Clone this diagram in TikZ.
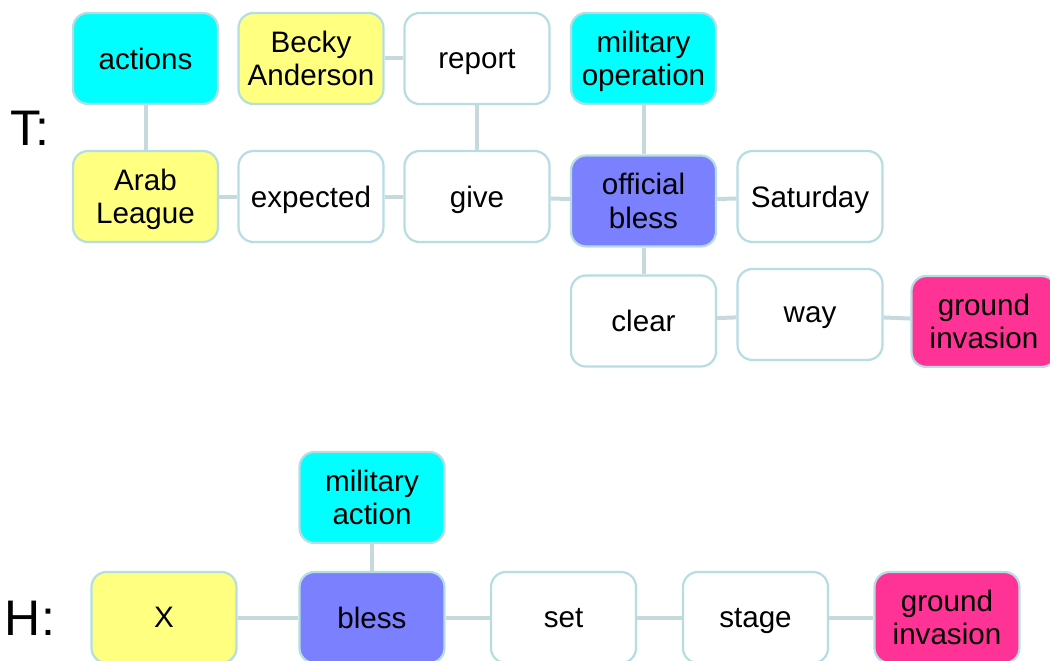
\documentclass[tikz,border=0pt]{standalone}
\usepackage{fontspec}
\setmainfont{Liberation Sans}
\definecolor{bord}{HTML}{B5DDE2}
\definecolor{conn}{HTML}{C6DADE}
\definecolor{cyanbox}{HTML}{00FFFF}
\definecolor{yelbox}{HTML}{FFFF80}
\definecolor{purbox}{HTML}{7B80FF}
\definecolor{pinkbox}{HTML}{FF3396}
\tikzset{
  box/.style={draw=bord, line width=2.2pt, rounded corners=15pt, fill=white,
    minimum width=145pt, minimum height=91pt, inner sep=0pt, align=center,
    text depth=0pt,
    font=\fontsize{29.6}{33.5}\selectfont},
  cy/.style={box, fill=cyanbox},
  ye/.style={box, fill=yelbox},
  pu/.style={box, fill=purbox},
  pk/.style={box, fill=pinkbox},
  link/.style={draw=conn, line width=4pt},
  lab/.style={font=\fontsize{50}{50}\selectfont, inner sep=0pt}
}
\begin{document}
\begin{tikzpicture}[x=1pt,y=-1pt]
\useasboundingbox (0,0) rectangle (1050,661);
% labels
\node[lab] (T) at (30,128) {T:};
\node[lab] (H) at (30,618) {H:};
% T graph
\node[cy] (actions) at (145.5,58.5) {actions};
\node[ye] (becky) at (311,58.5) {Becky\\Anderson};
\node[box] (report) at (477,58.5) {report};
\node[cy] (milop) at (643.5,58.5) {military\\operation};
\node[ye] (arab) at (145.5,196.5) {Arab\\League};
\node[box] (expected) at (311,196.5) {expected};
\node[box] (give) at (477,196.5) {give};
\node[pu] (offbless) at (643.5,201) {official\\bless};
\node[box] (saturday) at (810,196.5) {Saturday};
\node[box] (clear) at (643.5,321) {clear};
\node[box] (way) at (810,314.5) {way};
\node[pk] (ginvT) at (984,321.5) {ground\\invasion};
% H graph
\node[cy] (milact) at (372,497.5) {military\\action};
\node[ye] (x) at (164,617.5) {X};
\node[pu] (bless) at (372,617.5) {bless};
\node[box] (set) at (563.5,617.5) {set};
\node[box] (stage) at (755.5,617.5) {stage};
\node[pk] (ginvH) at (947,617.5) {ground\\invasion};
% connectors T
\draw[link] (actions) -- (arab);
\draw[link] (becky) -- (report);
\draw[link] (report) -- (give);
\draw[link] (milop) -- (offbless);
\draw[link] (arab) -- (expected);
\draw[link] (expected) -- (give);
\draw[link] (give) -- (offbless);
\draw[link] (offbless) -- (saturday);
\draw[link] (offbless) -- (clear);
\draw[link] (clear) -- (way);
\draw[link] (way) -- (ginvT);
% connectors H
\draw[link] (milact) -- (bless);
\draw[link] (x) -- (bless);
\draw[link] (bless) -- (set);
\draw[link] (set) -- (stage);
\draw[link] (stage) -- (ginvH);
\end{tikzpicture}
\end{document}
